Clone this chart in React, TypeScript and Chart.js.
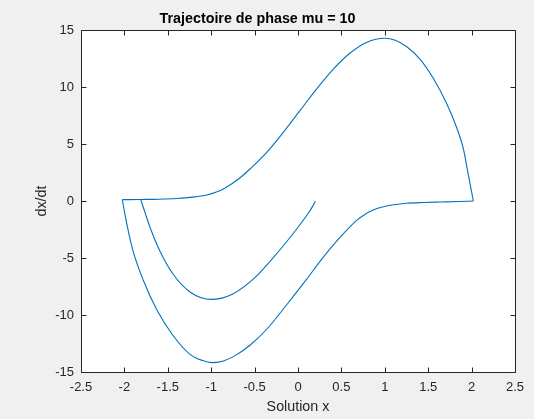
import React, { useEffect, useRef } from "react";
import { Chart, registerables } from "chart.js";

Chart.register(...registerables);

// Phase trajectory samples (x, dx/dt), split into three branches
// Transient branch: from the start point down to the slow manifold
const innerX = [0.2, 0.17, 0.12, 0.0, -0.15, -0.3, -0.5, -0.75, -1.0, -1.24, -1.44, -1.59, -1.705, -1.81];
const innerY = [0.0, -0.45, -1.05, -2.3, -3.75, -5.1, -6.75, -8.15, -8.63, -8.0, -6.4, -4.4, -2.3, 0.09];

// Lower half of the limit cycle
const lowerX = [-2.024, -2.0, -1.97, -1.9, -1.78, -1.63, -1.44, -1.244, -1.1, -0.994, -0.87, -0.745, -0.553, -0.36, -0.13, 0.1, 0.29, 0.484, 0.676, 0.77, 0.867, 0.96, 1.06, 1.25, 1.45, 1.636, 1.85, 2.02];
const lowerY = [0.12, -0.9, -2.1, -4.4, -7.0, -9.5, -11.8, -13.45, -14.0, -14.18, -14.05, -13.65, -12.65, -11.25, -9.1, -6.85, -4.95, -3.2, -1.7, -1.18, -0.8, -0.55, -0.38, -0.2, -0.13, -0.09, -0.05, 0.0];

// Upper half of the limit cycle
const upperX = [2.02, 1.99, 1.95, 1.905, 1.83, 1.71, 1.56, 1.405, 1.25, 1.12, 1.0, 0.79, 0.6, 0.41, 0.215, 0.02, -0.17, -0.36, -0.55, -0.65, -0.745, -0.85, -0.94, -1.05, -1.21, -1.4, -1.6, -1.81, -2.024];
const upperY = [0.0, 1.2, 2.8, 4.6, 6.4, 8.6, 10.75, 12.45, 13.55, 14.1, 14.27, 13.91, 12.98, 11.59, 9.83, 7.9, 6.02, 4.27, 2.83, 2.15, 1.6, 1.1, 0.785, 0.53, 0.34, 0.22, 0.16, 0.135, 0.12];

const xTicks = [-2.5, -2, -1.5, -1, -0.5, 0, 0.5, 1, 1.5, 2, 2.5];
const yTicks = [-15, -10, -5, 0, 5, 10, 15];

const LINE = "#0072BD";
const AXIS = "#262626";
const FONT = "'Liberation Sans', Arial, Helvetica, sans-serif";

const zip = (xs: number[], ys: number[]) => xs.map((x, i) => ({ x, y: ys[i] }));

// Grey figure background, white axes, MATLAB-style box with inward ticks
const framePlugin = {
  id: "frame",
  beforeDraw(chart: any) {
    const { ctx, chartArea: a, width, height } = chart;
    ctx.save();
    ctx.fillStyle = "#f0f0f0";
    ctx.fillRect(0, 0, width, height);
    ctx.fillStyle = "#ffffff";
    ctx.fillRect(a.left, a.top, a.right - a.left, a.bottom - a.top);
    ctx.restore();
  },
  afterDraw(chart: any) {
    const { ctx, chartArea: a, scales } = chart;
    const L = Math.round(a.left) + 0.5;
    const R = Math.round(a.right) + 0.5;
    const T = Math.round(a.top) + 0.5;
    const B = Math.round(a.bottom) + 0.5;
    const len = 5;
    ctx.save();
    ctx.strokeStyle = AXIS;
    ctx.lineWidth = 1;
    ctx.beginPath();
    ctx.rect(L, T, R - L, B - T);
    xTicks.forEach((v) => {
      const px = Math.round(scales.x.getPixelForValue(v)) + 0.5;
      ctx.moveTo(px, B);
      ctx.lineTo(px, B - len);
      ctx.moveTo(px, T);
      ctx.lineTo(px, T + len);
    });
    yTicks.forEach((v) => {
      const py = Math.round(scales.y.getPixelForValue(v)) + 0.5;
      ctx.moveTo(L, py);
      ctx.lineTo(L + len, py);
      ctx.moveTo(R, py);
      ctx.lineTo(R - len, py);
    });
    ctx.stroke();
    ctx.restore();
  },
};

export default function App() {
  const ref = useRef<HTMLCanvasElement | null>(null);

  useEffect(() => {
    document.body.style.margin = "0";
    document.body.style.background = "#f0f0f0";
    if (!ref.current) return;

    // Each branch is x-monotone, so a monotone cubic keeps it smooth
    const seg = (xs: number[], ys: number[]) => ({
      data: zip(xs, ys),
      showLine: true,
      borderColor: LINE,
      borderWidth: 1.1,
      pointRadius: 0,
      cubicInterpolationMode: "monotone" as const,
      fill: false,
    });

    const chart = new Chart(ref.current, {
      type: "scatter",
      data: {
        datasets: [seg(innerX, innerY), seg(lowerX, lowerY), seg(upperX, upperY)],
      },
      plugins: [framePlugin],
      options: {
        animation: false,
        responsive: false,
        devicePixelRatio: 1,
        layout: { padding: { left: 0, right: 19, top: 0, bottom: 0 } },
        plugins: {
          legend: { display: false },
          tooltip: { enabled: false },
          title: {
            display: true,
            text: "Trajectoire de phase mu = 10",
            color: "#000000",
            font: { family: FONT, size: 14.3, weight: "bold" },
            padding: { top: 10, bottom: 2.84 },
          },
        },
        scales: {
          x: {
            type: "linear",
            min: -2.5,
            max: 2.5,
            afterBuildTicks: (s: any) => {
              s.ticks = xTicks.map((v) => ({ value: v }));
            },
            afterFit: (s: any) => {
              s.height = 47;
            },
            grid: { display: false, drawTicks: false },
            border: { display: false },
            ticks: {
              color: AXIS,
              font: { family: FONT, size: 13 },
              padding: 8,
              maxRotation: 0,
              autoSkip: false,
              callback: (v: any) => String(v),
            },
            title: {
              display: true,
              text: "Solution x",
              color: AXIS,
              font: { family: FONT, size: 14.3 },
              padding: { top: 0, bottom: 3.7 },
            },
          },
          y: {
            type: "linear",
            min: -15,
            max: 15,
            afterBuildTicks: (s: any) => {
              s.ticks = yTicks.map((v) => ({ value: v }));
            },
            afterFit: (s: any) => {
              s.width = 81;
            },
            grid: { display: false, drawTicks: false },
            border: { display: false },
            ticks: {
              color: AXIS,
              font: { family: FONT, size: 13 },
              padding: 7,
              autoSkip: false,
              callback: (v: any) => String(v),
            },
            title: {
              display: true,
              text: "dx/dt",
              color: AXIS,
              font: { family: FONT, size: 14.3 },
              padding: { top: 33, bottom: 0 },
            },
          },
        },
      },
    });

    return () => chart.destroy();
  }, []);

  return <canvas ref={ref} width={534} height={419} style={{ display: "block" }} />;
}
